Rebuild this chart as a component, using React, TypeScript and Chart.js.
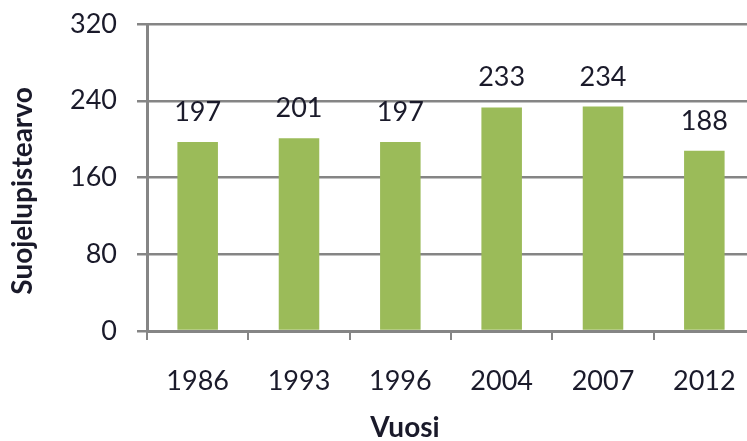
import React, { useEffect, useRef } from "react";
import { Chart, registerables } from "chart.js";

Chart.register(...registerables);

const years = ["1986", "1993", "1996", "2004", "2007", "2012"];
const values = [197, 201, 197, 233, 234, 188];
const yTicks = [0, 80, 160, 240, 320];
const yTitle = "Suojelupistearvo";
const xTitle = "Vuosi";

const FONT = "Lato, 'Open Sans', sans-serif";
const TEXT = "#1a1a2a";
const GRID = "#858585";

const labelPlugin = {
  id: "valueLabels",
  afterDatasetsDraw(chart: any) {
    const ctx = chart.ctx;
    const meta = chart.getDatasetMeta(0);
    ctx.save();
    ctx.font = `27px ${FONT}`;
    ctx.fillStyle = TEXT;
    ctx.textAlign = "center";
    ctx.textBaseline = "alphabetic";
    meta.data.forEach((bar: any, i: number) => {
      ctx.fillText(String(values[i]), bar.x, bar.y - 21);
    });
    ctx.restore();
  },
};

const titlePlugin = {
  id: "axisTitles",
  afterDraw(chart: any) {
    const ctx = chart.ctx;
    ctx.save();
    ctx.font = `bold 28px ${FONT}`;
    ctx.fillStyle = TEXT;
    ctx.textAlign = "center";
    ctx.textBaseline = "middle";
    ctx.fillText(xTitle, 405, 428);
    ctx.translate(23, 191);
    ctx.rotate(-Math.PI / 2);
    ctx.fillText(yTitle, 0, 0);
    ctx.restore();
  },
};

export default function App() {
  const ref = useRef<HTMLCanvasElement | null>(null);
  useEffect(() => {
    if (!ref.current) return;
    const chart = new Chart(ref.current, {
      type: "bar",
      data: {
        labels: years,
        datasets: [
          {
            data: values,
            backgroundColor: "#9bbb59",
            barPercentage: 0.8,
            categoryPercentage: 0.5,
          },
        ],
      },
      options: {
        responsive: false,
        animation: false,
        layout: { padding: { top: 24, right: 7, left: 0, bottom: 0 } },
        plugins: { legend: { display: false }, tooltip: { enabled: false } },
        scales: {
          x: {
            afterFit(scale: any) {
              scale.height = 110;
              scale.paddingLeft = 0;
              scale.paddingRight = 0;
            },
            grid: {
              display: true,
              drawOnChartArea: false,
              drawTicks: true,
              offset: true,
              tickLength: 9,
              color: GRID,
              lineWidth: 2,
            },
            border: { display: true, color: GRID, width: 3 },
            ticks: {
              font: { family: FONT, size: 27 },
              color: TEXT,
              padding: 25,
              maxRotation: 0,
            },
          },
          y: {
            min: 0,
            max: 320,
            afterFit(scale: any) {
              scale.width = 147;
              scale.paddingTop = 0;
              scale.paddingBottom = 0;
            },
            afterBuildTicks(scale: any) {
              scale.ticks = yTicks.map((v) => ({ value: v }));
            },
            grid: {
              color: GRID,
              lineWidth: 2.5,
              tickLength: 10,
            },
            border: { display: true, color: GRID, width: 3 },
            ticks: {
              font: { family: FONT, size: 27 },
              color: TEXT,
              padding: 20,
            },
          },
        },
      },
      plugins: [labelPlugin, titlePlugin],
    });
    return () => chart.destroy();
  }, []);
  return (
    <div
      style={{
        position: "absolute",
        left: 0,
        top: 0,
        width: 747,
        height: 441,
        overflow: "hidden",
        background: "#fff",
      }}
    >
      <canvas ref={ref} width={762} height={441} style={{ width: 762, height: 441, display: "block" }} />
    </div>
  );
}
